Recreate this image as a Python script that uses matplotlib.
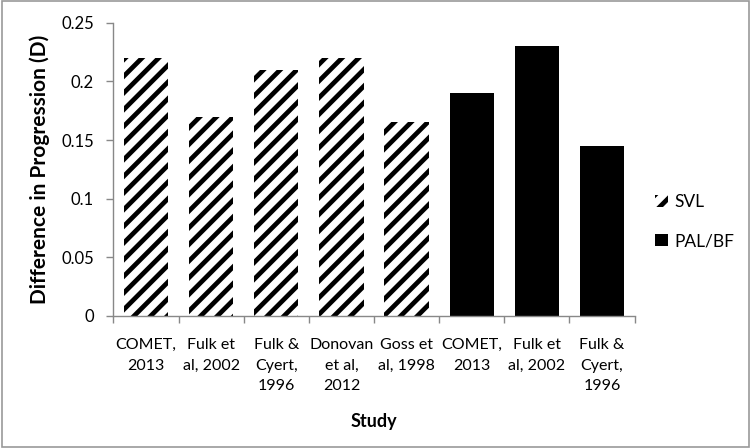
import matplotlib
matplotlib.use('Agg')
import matplotlib.pyplot as plt
import numpy as np
from matplotlib.patches import Patch

plt.rcParams['font.family'] = ['Lato', 'DejaVu Sans']
plt.rcParams['hatch.linewidth'] = 3.4

# data
svl_labels = ['COMET,\n2013', 'Fulk et\nal, 2002', 'Fulk &\nCyert,\n1996', 'Donovan\net al,\n2012', 'Goss et\nal, 1998']
svl_values = [0.22, 0.17, 0.21, 0.22, 0.165]
pal_labels = ['COMET,\n2013', 'Fulk et\nal, 2002', 'Fulk &\nCyert,\n1996']
pal_values = [0.19, 0.23, 0.145]
y_ticks = [0, 0.05, 0.1, 0.15, 0.2, 0.25]
y_tick_labels = ['0', '0.05', '0.1', '0.15', '0.2', '0.25']

fig = plt.figure(figsize=(7.51, 4.48), dpi=100)
ax = fig.add_axes([0.151, 0.295, 0.694, 0.654])

n_svl = len(svl_values)
x_svl = np.arange(n_svl)
x_pal = np.arange(n_svl, n_svl + len(pal_values))

ax.bar(x_svl, svl_values, width=0.68, color='white', edgecolor='black',
       hatch='//', linewidth=0)
ax.bar(x_pal, pal_values, width=0.68, color='black', linewidth=0)

n = n_svl + len(pal_values)
ax.set_xlim(-0.5, n - 0.5)
ax.set_ylim(0, 0.25)

ax.set_xticks(np.arange(n))
ax.set_xticklabels(svl_labels + pal_labels, fontsize=11.5, linespacing=1.6)
ax.tick_params(axis='x', which='major', length=0, pad=16)
ax.set_xticks(np.arange(n + 1) - 0.5, minor=True)
ax.tick_params(axis='x', which='minor', length=5, color='#888888', width=1)

ax.set_yticks(y_ticks)
ax.set_yticklabels(y_tick_labels, fontsize=12)
ax.tick_params(axis='y', length=5, color='#888888', width=1, pad=9)

for side in ['top', 'right']:
    ax.spines[side].set_visible(False)
for side in ['left', 'bottom']:
    ax.spines[side].set_color('#888888')
    ax.spines[side].set_linewidth(1)

ax.set_ylabel('Difference in Progression (D)', fontsize=15, fontweight='bold', labelpad=8)
ax.set_xlabel('Study', fontsize=13, fontweight='bold', labelpad=14)

handles = [Patch(facecolor='white', edgecolor='black', hatch='//', linewidth=0, label='SVL'),
           Patch(facecolor='black', linewidth=0, label='PAL/BF')]
fig.legend(handles=handles, loc='center left', bbox_to_anchor=(0.852, 0.505),
           frameon=False, fontsize=12.5, handlelength=0.7, handleheight=0.7,
           handletextpad=0.4, labelspacing=1.3)

# gray frame around the whole chart
fig.patches.append(plt.Rectangle((0.002, 0.003), 0.995, 0.994, transform=fig.transFigure,
                                 fill=False, edgecolor='#999999', linewidth=1.2))

fig.savefig('out.png', dpi=100)
